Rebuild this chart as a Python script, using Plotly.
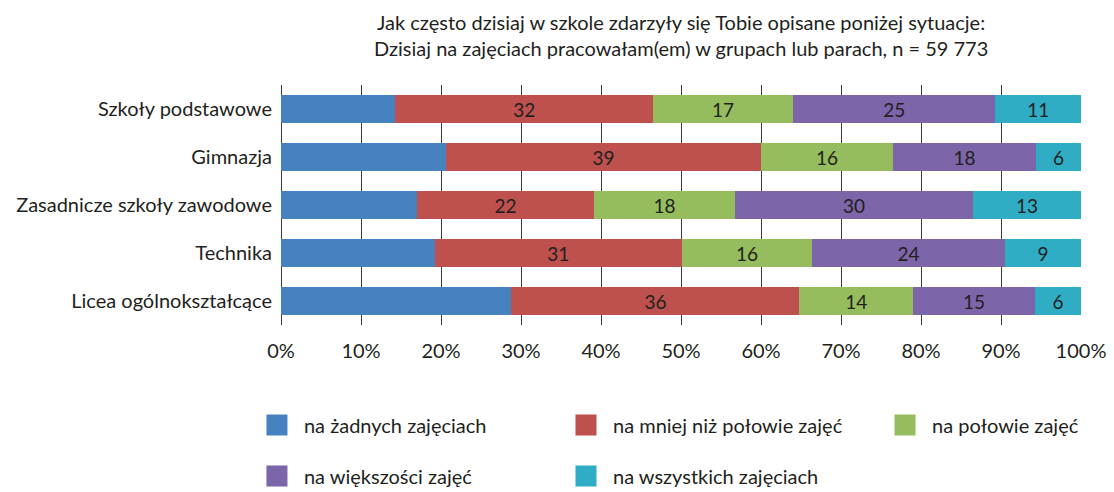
import plotly.graph_objects as go

categories = ["Szkoły podstawowe", "Gimnazja", "Zasadnicze szkoły zawodowe", "Technika", "Licea ogólnokształcące"]
series_names = ["na żadnych zajęciach", "na mniej niż połowie zajęć", "na połowie zajęć",
                "na większości zajęć", "na wszystkich zajęciach"]
blue = [14.3, 20.6, 17.0, 19.2, 28.8]
red = [32.2, 39.4, 22.1, 30.9, 36.0]
green = [17.5, 16.5, 17.65, 16.3, 14.2]
purple = [25.3, 17.9, 29.75, 24.1, 15.25]
cyan = [10.7, 5.6, 13.5, 9.5, 5.75]
red_labels = [32, 39, 22, 31, 36]
green_labels = [17, 16, 18, 16, 14]
purple_labels = [25, 18, 30, 24, 15]
cyan_labels = [11, 6, 13, 9, 6]
colors = ["#4682c0", "#be504d", "#95bd5e", "#7c65a8", "#30adc5"]
x_tick_values = [0, 10, 20, 30, 40, 50, 60, 70, 80, 90, 100]
x_tick_labels = ["0%", "10%", "20%", "30%", "40%", "50%", "60%", "70%", "80%", "90%", "100%"]
title_lines = ["Jak często dzisiaj w szkole zdarzyły się Tobie opisane poniżej sytuacje:",
               "Dzisiaj na zajęciach pracowałam(em) w grupach lub parach, n = 59 773"]

FONT = "Lato"
TXT = "#231f20"
GRID = "#3a3a3a"

values = [blue, red, green, purple, cyan]
labels = [None, red_labels, green_labels, purple_labels, cyan_labels]

fig = go.Figure()
for name, vals, lab, col in zip(series_names, values, labels, colors):
    fig.add_trace(go.Bar(
        y=categories, x=vals, orientation="h", name=name,
        marker=dict(color=col, line=dict(width=0)),
        text=[str(v) for v in lab] if lab else None,
        textposition="inside" if lab else "none",
        insidetextanchor="middle", textangle=0,
        textfont=dict(family=FONT, size=19, color=TXT),
        constraintext="none",
        showlegend=False, legendgroup=name,
        hoverinfo="x+y+name",
    ))

# legend entries: one legend per entry so each can sit in its own column/row
legend_ids = ["legend", "legend2", "legend3", "legend4", "legend5"]
for name, col, lid in zip(series_names, colors, legend_ids):
    fig.add_trace(go.Scatter(
        x=[None], y=[None], mode="markers", name=name, legendgroup=name,
        marker=dict(symbol="square", size=16, color=col, line=dict(color=col, width=5)),
        legend=lid, hoverinfo="skip",
    ))

leg_common = dict(
    orientation="h", xanchor="left", yanchor="middle",
    xref="container", yref="container",
    font=dict(family=FONT, size=20, color=TXT),
    itemwidth=44, bgcolor="rgba(0,0,0,0)", itemsizing="trace",
)
col_x = [0.2172, 0.4946, 0.7810]
row_y = [0.1525, 0.0488]
leg_pos = [(col_x[0], row_y[0]), (col_x[1], row_y[0]), (col_x[2], row_y[0]),
           (col_x[0], row_y[1]), (col_x[1], row_y[1])]

layout_legends = {lid: dict(x=px, y=py, **leg_common) for lid, (px, py) in zip(legend_ids, leg_pos)}

annotations = [
    dict(text=title_lines[0], x=0.5, y=1.0 + (77 - 22 + 8) / 240.0, xref="paper", yref="paper",
         xanchor="center", yanchor="middle", showarrow=False,
         font=dict(family=FONT, size=20, color=TXT)),
    dict(text=title_lines[1], x=0.5, y=1.0 + (77 - 48 + 8) / 240.0, xref="paper", yref="paper",
         xanchor="center", yanchor="middle", showarrow=False,
         font=dict(family=FONT, size=20, color=TXT)),
]

fig.update_layout(
    width=1114, height=492,
    margin=dict(l=273, r=41, t=77, b=175),
    paper_bgcolor="white", plot_bgcolor="white",
    barmode="stack", bargap=0.417,
    font=dict(family=FONT, color=TXT),
    annotations=annotations,
    xaxis=dict(
        range=[0, 100], tickmode="array", tickvals=x_tick_values, ticktext=x_tick_labels,
        showgrid=True, gridcolor=GRID, gridwidth=1.3,
        zeroline=True, zerolinecolor=GRID, zerolinewidth=1.3,
        showline=False, ticks="", ticklabelstandoff=12,
        tickfont=dict(family=FONT, size=20, color=TXT),
        fixedrange=True, automargin=False,
    ),
    yaxis=dict(
        autorange="reversed", showgrid=False, ticks="", showline=False,
        tickfont=dict(family=FONT, size=20, color=TXT),
        ticklabelstandoff=8, fixedrange=True, automargin=False,
    ),
    **layout_legends,
)

fig.write_html("out.html")
